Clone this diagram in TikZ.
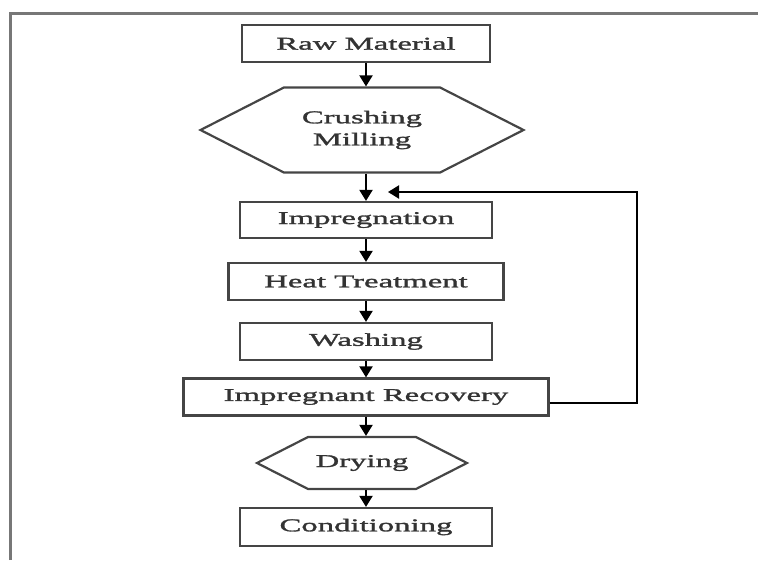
\documentclass[tikz,border=0pt]{standalone}
\usepackage{fontspec}
\setmainfont{Liberation Serif}[FakeStretch=1.82,FakeBold=1.6]
\usetikzlibrary{arrows.meta,shapes.symbols}
\definecolor{boxgray}{HTML}{454545}
\definecolor{txtgray}{HTML}{333333}
\definecolor{framegray}{HTML}{777777}
\begin{document}
\begin{tikzpicture}[x=1pt,y=1pt,
    box/.style={draw=boxgray,line width=2.2pt,inner sep=0pt,minimum height=37pt,
      text=txtgray,font=\fontsize{18}{22}\selectfont},
    hex/.style={box,signal,signal to=west and east,signal pointer angle=54,align=center},
    flow/.style={-{Triangle[width=13pt,length=11pt]},line width=2pt}]
      \useasboundingbox (0,0) rectangle (758,-560);
      \draw[framegray,line width=3pt] (10,-560) -- (10,-13) -- (758,-13);
      \draw
        (366,-43.5) node[box,minimum width=248pt] (raw){Raw Material}
        (362,-130) node[hex,minimum width=323pt,minimum height=85pt] (crush){Crushing\\Milling}
        (366,-220) node[box,minimum width=252pt,minimum height=36pt] (imp){Impregnation}
        (366,-281.5) node[box,minimum width=275pt] (heat){Heat Treatment}
        (366,-341.5) node[box,minimum width=252pt] (wash){Washing}
        (366,-397) node[box,minimum width=365pt] (rec){Impregnant Recovery}
        (362,-463) node[hex,minimum width=210pt,minimum height=52pt] (dry){Drying}
        (366,-527) node[box,minimum width=252pt,minimum height=38pt] (cond){Conditioning};
      \coordinate (fbin) at (388,-192);
      \begin{scope}[flow]
        \draw (raw.south) -- (raw.south |- crush.north);
        \draw (crush.south -| raw.south) -- (imp.north);
        \draw (imp) -- (heat);
        \draw (heat) -- (wash);
        \draw (wash) -- (rec);
        \draw (rec.south) -- (rec.south |- dry.north);
        \draw (dry.south -| rec.south) -- (cond.north);
        \draw ([yshift=-6pt]rec.east) -- ++(87,0) |- (fbin);
      \end{scope}
    \end{tikzpicture}
\end{document}
